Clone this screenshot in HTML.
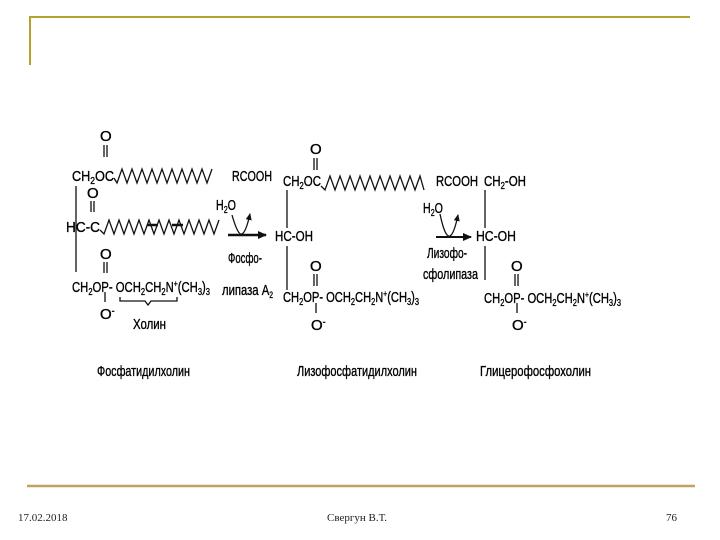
<!DOCTYPE html>
<html><head><meta charset="utf-8"><style>
html,body{margin:0;padding:0;background:#fff;}
svg{display:block;}
text{font-family:"Liberation Sans",sans-serif;font-size:15px;fill:#000;stroke:#000;stroke-width:0.35;}
.f{font-family:"Liberation Serif",serif;font-size:11px;fill:#222;stroke:none;}
</style></head><body>
<svg width="720" height="540" viewBox="0 0 720 540" xmlns="http://www.w3.org/2000/svg">
<defs><marker id="ah" markerUnits="userSpaceOnUse" markerWidth="10" markerHeight="10" refX="8" refY="4" orient="auto"><path d="M0,0 L9,4 L0,8 z" fill="#111"/></marker>
<marker id="ah2" markerUnits="userSpaceOnUse" markerWidth="8" markerHeight="8" refX="6" refY="3" orient="auto"><path d="M0,0 L7,3 L0,6 z" fill="#111"/></marker></defs>
<path d="M30,65 V17 H690" stroke="#b8a030" stroke-width="2" fill="none"/>
<line x1="27" y1="486" x2="695" y2="486" stroke="#c4a060" stroke-width="2.5"/>
<text class="f" x="18" y="521">17.02.2018</text>
<text class="f" x="327" y="521">Свергун В.Т.</text>
<text class="f" x="666" y="521">76</text>

<g stroke="#111" stroke-width="1.3" fill="none">
<line x1="104" y1="145" x2="104" y2="157"/><line x1="107" y1="145" x2="107" y2="157"/>
<path d="M114,178 l3,5 l5,-14 l5,14 l5,-14 l5,14 l5,-14 l5,14 l5,-14 l5,14 l5,-14 l5,14 l5,-14 l5,14 l5,-14 l5,14 l5,-14 l5,14 l5,-14 l5,14 l5,-14"/>
<line x1="76" y1="186" x2="76" y2="272"/>
<line x1="91" y1="201" x2="91" y2="212"/><line x1="94" y1="201" x2="94" y2="212"/>
<path d="M100,230 l4,4 l5,-14 l5,14 l5,-14 l5,14 l5,-14 l5,14 l5,-14 l5,14 l5,-14 l5,14 l5,-14 l5,14 l5,-14 l5,14 l5,-14 l5,14 l5,-14 l5,14 l5,-14 l5,14 l5,-14 l5,14 l5,-14"/>
<line x1="147" y1="225" x2="158" y2="225" stroke-width="2.5"/><line x1="172" y1="225" x2="183" y2="225" stroke-width="2.5"/>
<line x1="104" y1="262" x2="104" y2="273"/><line x1="107" y1="262" x2="107" y2="273"/>
<line x1="105" y1="292" x2="105" y2="302"/>
<path d="M120,297 v4 h25 l3,4 l3,-4 h26 v-4"/>
<line x1="228" y1="235" x2="266" y2="235" stroke-width="2.5" marker-end="url(#ah)"/>
<path d="M232,215 Q238,236 242,234 Q246,232 250,214" marker-end="url(#ah2)"/>
<line x1="314" y1="158" x2="314" y2="170"/><line x1="317" y1="158" x2="317" y2="170"/>
<path d="M321,186 l4,4 l5,-14 l5,14 l5,-14 l5,14 l5,-14 l5,14 l5,-14 l5,14 l5,-14 l5,14 l5,-14 l5,14 l5,-14 l5,14 l5,-14 l5,14 l5,-14 l5,14 l5,-14 l4,14"/>
<line x1="287" y1="190" x2="287" y2="228"/><line x1="287" y1="246" x2="287" y2="290"/>
<line x1="314" y1="274" x2="314" y2="286"/><line x1="317" y1="274" x2="317" y2="286"/>
<line x1="316" y1="303" x2="316" y2="313"/>
<line x1="436" y1="237" x2="471" y2="237" stroke-width="2" marker-end="url(#ah)"/>
<path d="M440,214 Q445,238 450,236 Q454,234 458,215" marker-end="url(#ah2)"/>
<line x1="485" y1="190" x2="485" y2="228"/><line x1="485" y1="246" x2="485" y2="280"/>
<line x1="515" y1="274" x2="515" y2="286"/><line x1="518" y1="274" x2="518" y2="286"/>
<line x1="517" y1="303" x2="517" y2="313"/>
</g>

<g>
<text x="100" y="141">O</text>
<text x="72" y="181" textLength="42" lengthAdjust="spacingAndGlyphs">CH<tspan font-size="10" dy="3">2</tspan><tspan dy="-3">OC</tspan></text>
<text x="232" y="181" textLength="40" lengthAdjust="spacingAndGlyphs">RCOOH</text>
<text x="87" y="198">O</text>
<text x="66" y="232" textLength="34" lengthAdjust="spacingAndGlyphs">HC-C</text>
<text x="216" y="210" textLength="20" lengthAdjust="spacingAndGlyphs">H<tspan font-size="10" dy="3">2</tspan><tspan dy="-3">O</tspan></text>
<text x="228" y="263" textLength="34" lengthAdjust="spacingAndGlyphs">Фосфо-</text>
<text x="222" y="295" textLength="51" lengthAdjust="spacingAndGlyphs">липаза A<tspan font-size="9" dy="3">2</tspan></text>
<text x="100" y="259">O</text>
<text x="72" y="292" textLength="138" lengthAdjust="spacingAndGlyphs">CH<tspan font-size="10" dy="3">2</tspan><tspan dy="-3">OP- OCH</tspan><tspan font-size="10" dy="3">2</tspan><tspan dy="-3">CH</tspan><tspan font-size="10" dy="3">2</tspan><tspan dy="-3">N</tspan><tspan font-size="9" dy="-5">+</tspan><tspan dy="5">(CH</tspan><tspan font-size="10" dy="3">3</tspan><tspan dy="-3">)</tspan><tspan font-size="10" dy="3">3</tspan></text>
<text x="100" y="319">O<tspan font-size="9" dy="-5">-</tspan></text>
<text x="133" y="329" textLength="33" lengthAdjust="spacingAndGlyphs">Холин</text>
<text x="97" y="376" textLength="93" lengthAdjust="spacingAndGlyphs">Фосфатидилхолин</text>

<text x="310" y="154">O</text>
<text x="283" y="186" textLength="38" lengthAdjust="spacingAndGlyphs">CH<tspan font-size="10" dy="3">2</tspan><tspan dy="-3">OC</tspan></text>
<text x="275" y="241" textLength="38" lengthAdjust="spacingAndGlyphs">HC-OH</text>
<text x="310" y="271">O</text>
<text x="283" y="302" textLength="136" lengthAdjust="spacingAndGlyphs">CH<tspan font-size="10" dy="3">2</tspan><tspan dy="-3">OP- OCH</tspan><tspan font-size="10" dy="3">2</tspan><tspan dy="-3">CH</tspan><tspan font-size="10" dy="3">2</tspan><tspan dy="-3">N</tspan><tspan font-size="9" dy="-5">+</tspan><tspan dy="5">(CH</tspan><tspan font-size="10" dy="3">3</tspan><tspan dy="-3">)</tspan><tspan font-size="10" dy="3">3</tspan></text>
<text x="311" y="330">O<tspan font-size="9" dy="-5">-</tspan></text>
<text x="297" y="376" textLength="120" lengthAdjust="spacingAndGlyphs">Лизофосфатидилхолин</text>

<text x="436" y="186" textLength="42" lengthAdjust="spacingAndGlyphs">RCOOH</text>
<text x="423" y="213" textLength="20" lengthAdjust="spacingAndGlyphs">H<tspan font-size="10" dy="3">2</tspan><tspan dy="-3">O</tspan></text>
<text x="427" y="258" textLength="40" lengthAdjust="spacingAndGlyphs">Лизофо-</text>
<text x="423" y="279" textLength="55" lengthAdjust="spacingAndGlyphs">сфолипаза</text>
<text x="484" y="186" textLength="42" lengthAdjust="spacingAndGlyphs">CH<tspan font-size="10" dy="3">2</tspan><tspan dy="-3">-OH</tspan></text>
<text x="476" y="241" textLength="40" lengthAdjust="spacingAndGlyphs">HC-OH</text>
<text x="511" y="271">O</text>
<text x="484" y="303" textLength="137" lengthAdjust="spacingAndGlyphs">CH<tspan font-size="10" dy="3">2</tspan><tspan dy="-3">OP- OCH</tspan><tspan font-size="10" dy="3">2</tspan><tspan dy="-3">CH</tspan><tspan font-size="10" dy="3">2</tspan><tspan dy="-3">N</tspan><tspan font-size="9" dy="-5">+</tspan><tspan dy="5">(CH</tspan><tspan font-size="10" dy="3">3</tspan><tspan dy="-3">)</tspan><tspan font-size="10" dy="3">3</tspan></text>
<text x="512" y="330">O<tspan font-size="9" dy="-5">-</tspan></text>
<text x="480" y="376" textLength="111" lengthAdjust="spacingAndGlyphs">Глицерофосфохолин</text>
</g>
</svg>
</body></html>
